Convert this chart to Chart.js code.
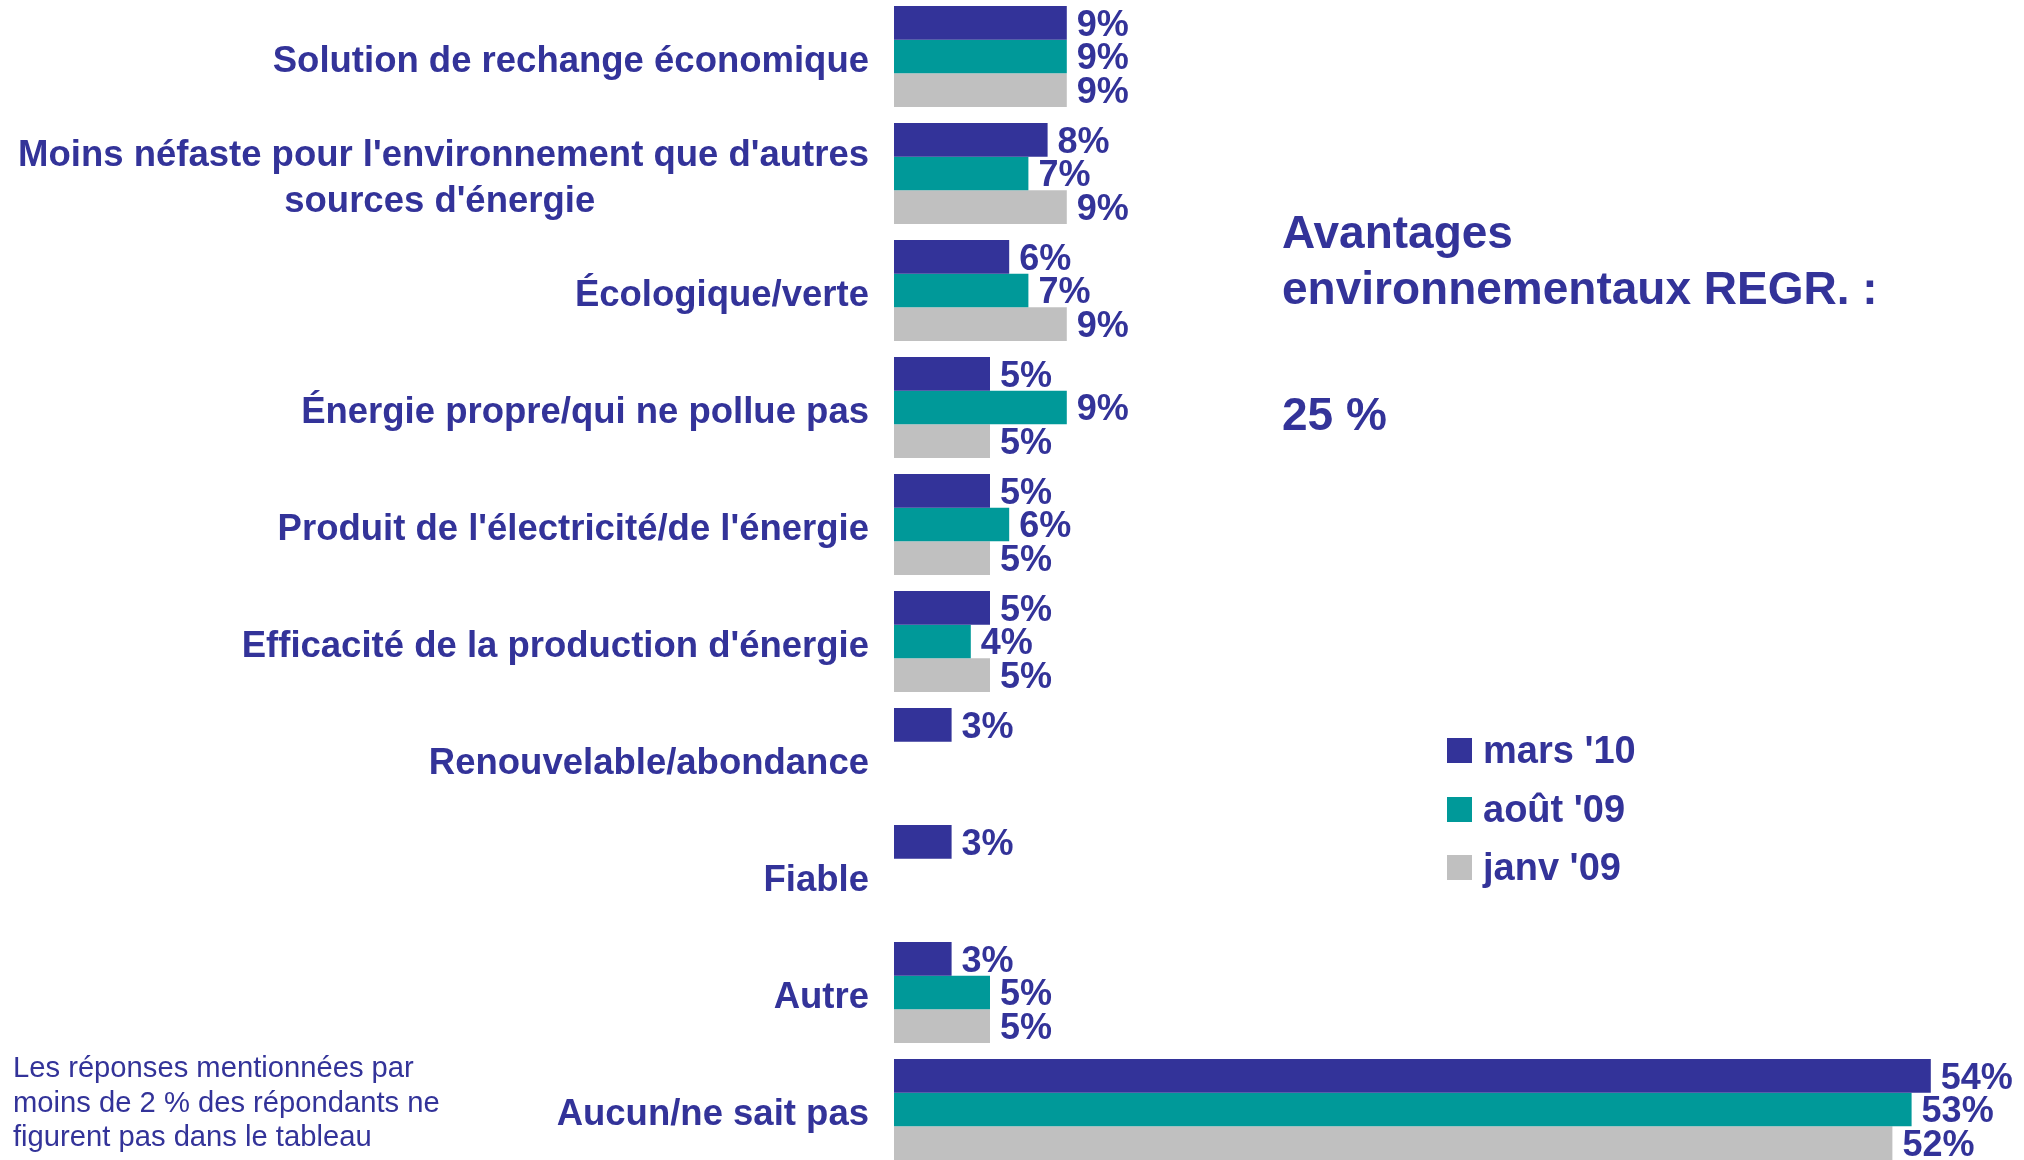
<!DOCTYPE html>
<html><head><meta charset="utf-8">
<script src="https://cdn.jsdelivr.net/npm/chart.js@4.4.1/dist/chart.umd.min.js"></script>
<style>
html,body{margin:0;padding:0;background:#fff;width:2024px;height:1160px;overflow:hidden;position:relative;font-family:"Liberation Sans",Arial,sans-serif;color:#333399}
#wrap{position:absolute;left:0;top:-2px;width:2024px;height:1170px}
.title{position:absolute;left:1282px;font-weight:bold;font-size:46px;line-height:56px;white-space:nowrap}
.note{position:absolute;left:13px;top:1050px;font-size:29.2px;line-height:34.5px;white-space:nowrap}
.lg{position:absolute;left:1447px;font-weight:bold;font-size:38px;line-height:40px;white-space:nowrap}
.lg span.sw{position:absolute;left:0;width:25px;height:25px}
.lg span.tx{position:absolute;left:36px;}
</style>
</head><body>
<div id="wrap"><canvas id="c" width="2024" height="1170"></canvas></div>
<div class="title" style="top:204px">Avantages<br>environnementaux REGR. :</div>
<div class="title" style="top:386px">25 %</div>
<div class="note">Les réponses mentionnées par<br>moins de 2 % des répondants ne<br>figurent pas dans le tableau</div>
<div id="legend"></div>
<script>
// ---- data ----
const categories = [
  ["Solution de rechange économique"],
  ["Moins néfaste pour l'environnement que d'autres", "sources d'énergie"],
  ["Écologique/verte"],
  ["Énergie propre/qui ne pollue pas"],
  ["Produit de l'électricité/de l'énergie"],
  ["Efficacité de la production d'énergie"],
  ["Renouvelable/abondance"],
  ["Fiable"],
  ["Autre"],
  ["Aucun/ne sait pas"]
];
const seriesNames = ["mars '10", "août '09", "janv '09"];
const mars10 = [9, 8, 6, 5, 5, 5, 3, 3, 3, 54];
const aout09 = [9, 7, 7, 9, 6, 4, null, null, 5, 53];
const janv09 = [9, 9, 9, 5, 5, 5, null, null, 5, 52];
const seriesColors = ["#333399", "#009999", "#C0C0C0"];
const textColor = "#333399";

// ---- centre multi-line labels (pad shorter lines for right-aligned drawing) ----
const FONT = '"Liberation Sans", Arial, sans-serif';
const LABEL_SIZE = 36.5;
const mctx = document.createElement('canvas').getContext('2d');
mctx.font = 'bold ' + LABEL_SIZE + 'px ' + FONT;
const spW = mctx.measureText('\u00A0').width;
const labels = categories.map(lines => {
  if (lines.length === 1) return lines[0];
  const ws = lines.map(l => mctx.measureText(l).width);
  const mx = Math.max(...ws);
  return lines.map((l, i) => l + '\u00A0'.repeat(Math.round((mx - ws[i]) / 2 / spW)));
});

// ---- legend ----
const lgTops = [738, 797, 855];
const legend = document.getElementById('legend');
seriesNames.forEach((n, i) => {
  const d = document.createElement('div');
  d.className = 'lg';
  d.style.top = lgTops[i] + 'px';
  d.innerHTML = '<span class="sw" style="background:' + seriesColors[i] + '"></span><span class="tx" style="top:-8px">' + n + '</span>';
  legend.appendChild(d);
});

const valueLabels = {
  id: 'valueLabels',
  afterDatasetsDraw(chart) {
    const ctx = chart.ctx;
    ctx.save();
    ctx.font = 'bold 36px ' + FONT;
    ctx.fillStyle = textColor;
    ctx.textAlign = 'left';
    ctx.textBaseline = 'middle';
    chart.data.datasets.forEach((ds, di) => {
      const meta = chart.getDatasetMeta(di);
      meta.data.forEach((el, i) => {
        const v = ds.data[i];
        if (v === null || v === undefined) return;
        ctx.fillText(v + '%', el.x + 10, el.y + 3);
      });
    });
    ctx.restore();
  }
};

new Chart(document.getElementById('c'), {
  type: 'bar',
  data: {
    labels: labels,
    datasets: [
      { label: seriesNames[0], data: mars10, backgroundColor: seriesColors[0] },
      { label: seriesNames[1], data: aout09, backgroundColor: seriesColors[1] },
      { label: seriesNames[2], data: janv09, backgroundColor: seriesColors[2] }
    ]
  },
  options: {
    indexAxis: 'y',
    responsive: false,
    animation: false,
    devicePixelRatio: 1,
    layout: { padding: { left: 0, right: 16.4, top: 0, bottom: 0 } },
    datasets: { bar: { barPercentage: 1, categoryPercentage: 0.863, borderWidth: 0 } },
    plugins: { legend: { display: false }, tooltip: { enabled: false } },
    scales: {
      x: { display: false, min: 0, max: 58 },
      y: {
        grid: { display: false, drawTicks: false },
        border: { display: false },
        ticks: {
          color: textColor,
          autoSkip: false,
          padding: 25,
          labelOffset: 5,
          font: { family: FONT, size: LABEL_SIZE, weight: 'bold', lineHeight: 1.26 }
        },
        afterFit(s) { s.width = 894; s.paddingTop = 0; s.paddingBottom = 0; }
      }
    }
  },
  plugins: [valueLabels]
});
</script>
</body></html>
